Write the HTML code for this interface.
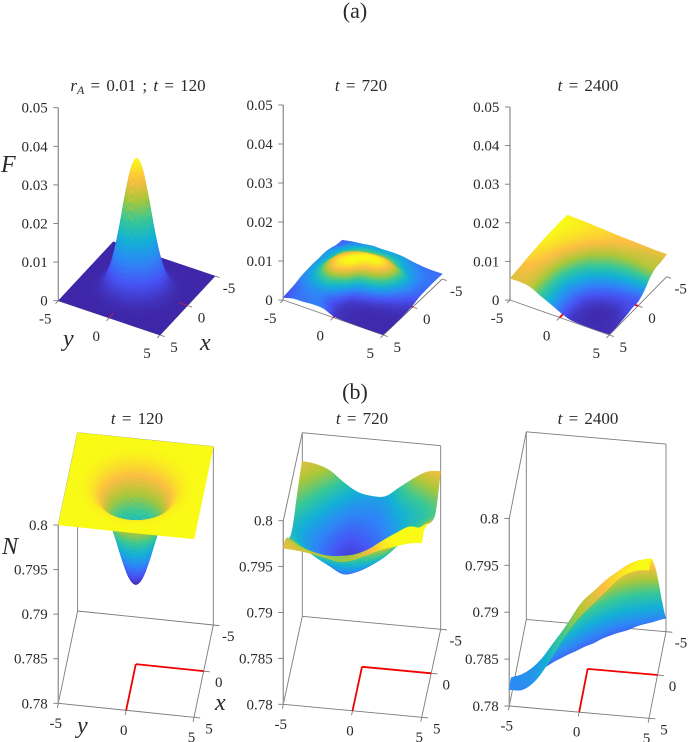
<!DOCTYPE html>
<html lang="en">
<head>
<meta charset="utf-8">
<title>F and N surfaces</title>
<style>
html,body{margin:0;padding:0;background:#fff;}
svg{display:block;}
text{font-family:"Liberation Serif",serif;fill:#2a2a2a;}
.tick{font-size:15px;}
.ttl{font-size:17px;word-spacing:2px;}
.lab{font-size:24px;font-style:italic;}
.it{font-style:italic;}
</style>
</head>
<body>
<svg id="fig" xmlns="http://www.w3.org/2000/svg" width="690" height="742" viewBox="0 0 690 742">
<text x="355" y="18" text-anchor="middle" font-size="22">(a)</text>
<text x="355" y="399" text-anchor="middle" font-size="22">(b)</text>
<text class="ttl" x="138" y="91" text-anchor="middle"><tspan class="it">r</tspan><tspan class="it" dy="3" font-size="12">A</tspan><tspan dy="-3"> = 0.01 ; </tspan><tspan class="it">t</tspan> = 120</text>
<text class="ttl" x="361" y="91" text-anchor="middle"><tspan class="it">t</tspan> = 720</text>
<text class="ttl" x="588" y="91" text-anchor="middle"><tspan class="it">t</tspan> = 2400</text>
<text class="ttl" x="137" y="424" text-anchor="middle"><tspan class="it">t</tspan> = 120</text>
<text class="ttl" x="362" y="424" text-anchor="middle"><tspan class="it">t</tspan> = 720</text>
<text class="ttl" x="588" y="424" text-anchor="middle"><tspan class="it">t</tspan> = 2400</text>
<g id="panels"></g>
<text class="lab" x="1" y="172">F</text>
<text class="lab" x="2" y="554">N</text>
<text class="lab" x="63" y="346">y</text>
<text class="lab" x="200" y="350">x</text>
<text class="lab" x="77" y="733">y</text>
<text class="lab" x="215" y="710">x</text>
</svg>
<script>
// Axis ticks (values in thousandths for z)
const groundTicks = [-5, 0, 5];
const groundTickLabels = ['-5', '0', '5'];
const fZTicks = [0, 10, 20, 30, 40, 50];
const fZTickLabels = ['0', '0.01', '0.02', '0.03', '0.04', '0.05'];
const nZTicks = [780, 785, 790, 795, 800];
const nZTickLabels = ['0.78', '0.785', '0.79', '0.795', '0.8'];

// Radial profiles (r, value x 1000)
const f120Radii = [0, 0.5, 1, 1.5, 2, 2.5, 3, 3.5, 4, 5, 8];
const f120Values = [33.7, 30.9, 24.0, 15.6, 8.6, 4.0, 1.55, 0.51, 0.14, 0.0, 0.0];
const n120Radii = [0, 0.5, 1, 1.5, 2, 2.5, 3, 3.5, 4, 5, 8];
const n120Values = [789.0, 789.78, 791.82, 794.36, 796.63, 798.27, 799.23, 799.70, 799.90, 799.99, 800.0];

// Surfaces on an 11x11 grid: rows x=-5..5, columns y=-5..5 (value x 1000)
const f720Grid = [
[1.0,1.5,1.8,2.2,2.2,2.3,2.2,1.75,1.4,1.25,1.3],
[1.2,1.9,2.5,2.9,3.0,3.0,2.8,2.3,1.8,1.5,1.35],
[1.76,2.4,3.1,3.7,4.0,4.2,3.9,3.0,2.2,1.6,1.3],
[2.1,2.7,4.0,4.9,5.5,5.7,5.5,4.5,2.9,1.7,1.2],
[2.0,2.9,4.7,5.6,5.95,5.9,5.6,4.4,2.6,1.5,1.0],
[2.05,3.1,5.0,5.8,5.9,4.6,4.0,3.0,1.6,0.9,0.5],
[1.9,2.8,4.4,5.3,4.6,2.4,1.7,1.1,0.6,0.4,0.25],
[1.7,2.3,3.1,3.4,2.3,0.9,0.5,0.3,0.2,0.15,0.1],
[1.2,1.7,2.0,1.9,1.1,0.4,0.2,0.1,0.08,0.06,0.05],
[0.95,1.4,1.6,1.6,0.9,0.3,0.15,0.08,0.05,0.05,0.05],
[0.7,1.3,1.4,1.6,1.45,0.4,0.15,0.1,0.05,0.05,0.1]];
const f2400Grid = [
[6.9,6.8,6.7,6.55,6.4,6.2,6.1,6.0,5.9,5.8,5.8],
[7.0,6.9,6.7,6.5,6.3,6.0,5.8,5.6,5.5,5.4,5.4],
[7.0,6.8,6.6,6.3,5.9,5.4,5.1,5.0,5.0,5.1,5.2],
[6.95,6.7,6.4,5.9,5.2,4.7,4.3,4.0,3.9,4.0,4.1],
[6.85,6.6,6.1,5.4,4.5,3.8,3.2,2.8,2.5,2.3,2.2],
[6.7,6.4,5.8,4.9,3.8,2.9,2.1,1.6,1.3,1.15,1.1],
[6.5,6.2,5.6,4.4,3.2,2.2,1.3,0.8,0.6,0.7,1.0],
[6.3,6.0,5.4,4.1,2.7,1.6,0.7,0.3,0.2,0.3,0.65],
[6.0,5.9,5.3,4.0,2.6,1.4,0.5,0.15,0.1,0.2,0.4],
[5.8,5.8,5.3,4.0,2.7,1.4,0.45,0.15,0.1,0.15,0.2],
[5.6,5.65,5.3,4.0,2.8,1.5,0.45,0.2,0.15,0.15,0.2]];
const n720Grid = [
[796.87,796.7,796.15,795.0,794.1,793.8,793.9,795.0,796.1,797.0,797.2],
[796.6,796.1,795.3,794.2,793.4,793.3,793.5,794.4,795.3,795.9,796.5],
[796.1,795.4,794.4,793.4,792.85,792.9,793.2,793.9,794.6,795.1,795.7],
[795.6,794.7,793.7,792.8,792.3,792.5,792.9,793.6,794.4,794.9,795.4],
[794.9,794.0,793.2,792.4,791.85,792.1,792.7,793.5,794.4,795.1,795.8],
[794.5,793.7,792.95,792.2,791.6,791.9,792.6,793.5,794.6,795.5,796.5],
[794.6,793.8,793.0,792.3,791.65,791.95,792.7,793.7,795.0,796.2,797.3],
[795.2,794.4,793.5,792.7,792.05,792.4,793.2,794.3,795.8,797.1,798.2],
[796.2,795.4,794.5,793.7,793.0,793.4,794.3,795.5,797.1,798.2,798.8],
[796.9,796.4,795.9,795.6,795.7,796.0,796.7,797.8,798.8,799.6,799.3],
[797.0,796.9,796.7,796.4,796.1,796.4,797.1,797.8,798.3,798.8,799.0]];
const n2400Grid = [
[776.5,776.0,775.5,776.0,776.8,777.8,778.8,779.6,780.4,780.9,781.42],
[776.8,776.5,776.2,776.8,777.6,778.8,779.9,781.0,781.7,782.4,782.9],
[777.3,777.2,777.0,777.8,778.8,779.9,781.5,782.6,783.5,784.2,784.7],
[777.8,777.8,777.8,778.9,780.0,781.7,783.2,784.4,785.4,786.1,786.5],
[778.4,778.4,778.9,780.0,781.5,783.3,784.9,786.3,787.4,788.1,788.5],
[779.0,779.1,779.8,781.4,783.1,785.0,786.7,788.2,789.3,790.0,790.3],
[779.6,780.0,781.0,782.8,784.5,786.6,788.3,789.9,791.1,791.8,792.1],
[780.3,781.0,782.2,784.2,786.0,788.0,789.8,791.4,792.7,793.4,793.6],
[781.2,781.9,783.3,785.4,787.4,789.5,791.0,792.6,794.0,794.8,795.0],
[782.0,782.4,783.3,785.8,788.2,790.6,792.15,793.6,794.6,795.5,796.0],
[781.75,781.9,783.2,785.5,788.0,790.1,791.7,793.3,794.8,795.6,795.8]];

const parulaStops = ['#3e26a8','#4752f4','#2d87f7','#12b1d6','#37c897','#abc739','#fcbe42','#f9fb15'];
const NS = 'http://www.w3.org/2000/svg';

function hexRgb(h){ return [1,3,5].map(i => parseInt(h.substr(i,2),16)); }
const parulaRgb = parulaStops.map(hexRgb);
function parula(t){
  t = Math.max(0, Math.min(1, t)) * (parulaRgb.length - 1);
  const i = Math.min(Math.floor(t), parulaRgb.length - 2), f = t - i;
  const a = parulaRgb[i], b = parulaRgb[i + 1];
  return 'rgb(' + [0,1,2].map(k => Math.round(a[k] + (b[k] - a[k]) * f)).join(',') + ')';
}
function catmull(p0, p1, p2, p3, t){
  return 0.5 * (2 * p1 + (p2 - p0) * t + (2 * p0 - 5 * p1 + 4 * p2 - p3) * t * t + (3 * p1 - p0 - 3 * p2 + p3) * t * t * t);
}
function gridSurface(grid){
  const n = grid.length;
  const at = (i, j) => grid[Math.max(0, Math.min(n - 1, i))][Math.max(0, Math.min(grid[0].length - 1, j))];
  return function(x, y){
    const gx = (x + 5) / 10 * (n - 1), gy = (y + 5) / 10 * (grid[0].length - 1);
    const i = Math.min(Math.floor(gx), n - 2), j = Math.min(Math.floor(gy), grid[0].length - 2);
    const tx = gx - i, ty = gy - j, col = [];
    for (let a = -1; a <= 2; a++) col.push(catmull(at(i + a, j - 1), at(i + a, j), at(i + a, j + 1), at(i + a, j + 2), ty));
    return catmull(col[0], col[1], col[2], col[3], tx);
  };
}
function radialSurface(rs, vs){
  const tan = vs.map((v, i) => {
    if (i === 0 || i === vs.length - 1) return 0;
    const d0 = v - vs[i - 1], d1 = vs[i + 1] - v;
    if (d0 * d1 <= 0) return 0;
    return (vs[i + 1] - vs[i - 1]) / (rs[i + 1] - rs[i - 1]);
  });
  return function(x, y){
    const r = Math.sqrt(x * x + y * y);
    let i = 0;
    while (i < rs.length - 2 && r > rs[i + 1]) i++;
    const h = rs[i + 1] - rs[i], t = Math.min(1, (r - rs[i]) / h), t2 = t * t, t3 = t2 * t;
    return (2 * t3 - 3 * t2 + 1) * vs[i] + (t3 - 2 * t2 + t) * h * tan[i] + (-2 * t3 + 3 * t2) * vs[i + 1] + (t3 - t2) * h * tan[i + 1];
  };
}

const panels = [
 {id:'f-120', kind:'F', L:[58.3,300.7], B:[160,335], R:[215,276], zs:3.86, z0:0, clim:[0,33.7], res:80, clamp:true, fn:radialSurface(f120Radii,f120Values)},
 {id:'f-720', kind:'F', L:[283.3,300], B:[383.3,335], R:[442.3,279], zs:3.9, z0:0, clim:[0,6], res:56, clamp:true, fn:gridSurface(f720Grid)},
 {id:'f-2400', kind:'F', L:[510,300], B:[609.3,335], R:[666.7,276.7], zs:3.86, z0:0, clim:[0,7], res:56, clamp:true, fn:gridSurface(f2400Grid)},
 {id:'n-120', kind:'N', L:[58.3,703.3], B:[194,717.3], R:[213.3,625], zs:8.915, z0:780, clim:[789,800], res:80, clamp:false, fn:radialSurface(n120Radii,n120Values)},
 {id:'n-720', kind:'N', L:[283.3,704.3], B:[421.7,717.3], R:[440.7,629.3], zs:9.18, z0:780, clim:[791,798.4], res:60, clamp:false, fn:gridSurface(n720Grid)},
 {id:'n-2400', kind:'N', L:[509.3,706], B:[649,718.3], R:[666,631.7], zs:9.38, z0:780, clim:[776,795.8], res:60, clamp:false, fn:gridSurface(n2400Grid)}
];

const root = document.getElementById('panels');

function projector(p){
  return function(x, y, z){
    const u = (5 - y) / 10, v = (5 - x) / 10;
    return [
      p.B[0] + (p.L[0] - p.B[0]) * u + (p.R[0] - p.B[0]) * v,
      p.B[1] + (p.L[1] - p.B[1]) * u + (p.R[1] - p.B[1]) * v - (z - p.z0) * p.zs
    ];
  };
}
function drawLine(parent, name, a, b, color, width){
  const el = document.createElementNS(NS, 'line');
  
  
  el.setAttribute('x1', a[0].toFixed(2));
  el.setAttribute('y1', a[1].toFixed(2));
  el.setAttribute('x2', b[0].toFixed(2));
  el.setAttribute('y2', b[1].toFixed(2));
  el.setAttribute('stroke', color);
  el.setAttribute('stroke-width', width);
  parent.appendChild(el);
  return el;
}
function drawText(parent, name, s, x, y, anchor){
  const el = document.createElementNS(NS, 'text');
  
  
  el.setAttribute('class', 'tick');
  el.setAttribute('x', x.toFixed(1));
  el.setAttribute('y', y.toFixed(1));
  el.setAttribute('text-anchor', anchor);
  el.textContent = s;
  parent.appendChild(el);
  return el;
}
function clipQuad(q, zMin){
  const out = [];
  for (let i = 0; i < q.length; i++){
    const a = q[i], b = q[(i + 1) % q.length];
    if (a[2] >= zMin) out.push(a);
    if ((a[2] >= zMin) !== (b[2] >= zMin)){
      const t = (zMin - a[2]) / (b[2] - a[2]);
      out.push([a[0] + (b[0] - a[0]) * t, a[1] + (b[1] - a[1]) * t, zMin]);
    }
  }
  return out;
}

panels.forEach(function(p){
  const P = projector(p);
  const g = document.createElementNS(NS, 'g');
  
  
  root.appendChild(g);
  const isN = p.kind === 'N';
  const zTicks = isN ? nZTicks : fZTicks;
  const zLabels = isN ? nZTickLabels : fZTickLabels;
  const zTop = zTicks[zTicks.length - 1];
  const lineCol = '#7a7a7a';

  // box and floor
  drawLine(g, 'y-axis-line', P(5,-5,p.z0), P(5,5,p.z0), lineCol, 0.9);
  drawLine(g, 'x-axis-line', P(5,5,p.z0), P(-5,5,p.z0), lineCol, 0.9);
  if (isN){
    drawLine(g, 'floor-back-edge', P(-5,-5,p.z0), P(-5,5,p.z0), lineCol, 0.9);
    drawLine(g, 'floor-left-edge', P(5,-5,p.z0), P(-5,-5,p.z0), lineCol, 0.9);
    drawLine(g, 'box-back-vertical', P(-5,-5,p.z0), P(-5,-5,zTop), lineCol, 0.9);
    drawLine(g, 'box-right-vertical', P(-5,5,p.z0), P(-5,5,zTop), lineCol, 0.9);
    drawLine(g, 'box-top-back-edge', P(-5,-5,zTop), P(-5,5,zTop), lineCol, 0.9);
    drawLine(g, 'box-top-left-edge', P(5,-5,zTop), P(-5,-5,zTop), lineCol, 0.9);
  }
  drawLine(g, 'z-axis-line', P(5,-5,p.z0), P(5,-5,zTop), '#999', 1.4);

  // ticks and tick labels
  zTicks.forEach(function(t, i){
    const a = P(5,-5,t);
    drawLine(g, 'z-tick', [a[0]-5, a[1]], a, lineCol, 0.9);
    drawText(g, 'z-tick-label', zLabels[i], a[0]-10.6, a[1]+5, 'end');
  });
  const yOff = isN ? [-2.5,19.5] : [-13,18];
  const xOff = isN ? [15,11] : [14,12];
  groundTicks.forEach(function(t, i){
    const a = P(5,t,p.z0);
    drawLine(g, 'y-tick', a, P(5.5,t,p.z0), lineCol, 0.9);
    drawText(g, 'y-tick-label', groundTickLabels[i], a[0]+yOff[0], a[1]+yOff[1]+5, 'middle');
    const b = P(t,5,p.z0);
    drawLine(g, 'x-tick', b, P(t,5.45,p.z0), lineCol, 0.9);
    drawText(g, 'x-tick-label', groundTickLabels[i], b[0]+xOff[0], b[1]+xOff[1]+5, 'middle');
  });

  // red marker on floor
  drawLine(g, 'red-line-y-zero', P(5,0,p.z0), P(0,0,p.z0), '#f00000', 1.8);
  drawLine(g, 'red-line-x-zero', P(0,0,p.z0), P(0,5,p.z0), '#f00000', 1.8);

  // surface, painted back to front
  const s = document.createElementNS(NS, 'g');
  
  
  g.appendChild(s);
  const n = p.res, h = 10 / n;
  const vals = [];
  for (let i = 0; i <= n; i++){
    vals.push([]);
    for (let j = 0; j <= n; j++){
      const v = p.fn(-5 + i * h, -5 + j * h);
      vals[i].push(p.clamp ? Math.max(v, p.z0) : v);
    }
  }
  for (let i = 0; i < n; i++){
    for (let j = 0; j < n; j++){
      const x0 = -5 + i * h, y0 = -5 + j * h;
      let q = [[x0,y0,vals[i][j]],[x0+h,y0,vals[i+1][j]],[x0+h,y0+h,vals[i+1][j+1]],[x0,y0+h,vals[i][j+1]]];
      q = clipQuad(q, p.z0);
      if (q.length < 3) continue;
      let avg = 0;
      q.forEach(function(v){ avg += v[2]; });
      avg /= q.length;
      const col = parula((avg - p.clim[0]) / (p.clim[1] - p.clim[0]));
      const pts = q.map(function(v){ const c = P(v[0],v[1],v[2]); return c[0].toFixed(2) + ',' + c[1].toFixed(2); }).join(' ');
      const cell = document.createElementNS(NS, 'polygon');
      
      
      cell.setAttribute('points', pts);
      cell.setAttribute('fill', col);
      cell.setAttribute('stroke', col);
      cell.setAttribute('stroke-width', '0.5');
      s.appendChild(cell);
    }
  }

  if (p.id === 'f-120'){
    drawLine(g, 'red-mark-y', P(5,0,p.z0), P(4.2,0,p.z0), '#a8205f', 1);
    drawLine(g, 'red-mark-x', P(0,5,p.z0), P(0,4.2,p.z0), '#a8205f', 1);
  }
});
</script>
</body>
</html>
